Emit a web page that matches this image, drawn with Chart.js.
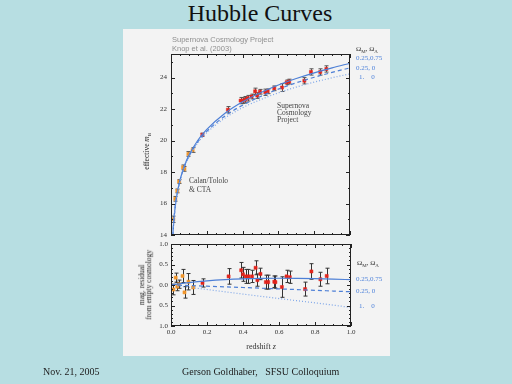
<!DOCTYPE html>
<html>
<head>
<meta charset="utf-8">
<script src="https://cdn.jsdelivr.net/npm/chart.js@4.4.1/dist/chart.umd.min.js"></script>
<style>
  body { margin: 0; width: 512px; height: 384px; background: #b7dee2; position: relative; overflow: hidden; font-family: "Liberation Serif", "DejaVu Serif", serif; }
  .abs { position: absolute; white-space: nowrap; }
  #panel { position: absolute; left: 123px; top: 29px; width: 267px; height: 327px; background: #f3f3f3; }
  canvas { position: absolute; }
  .leg { font-size: 7px; line-height: 8px; color: #4f83db; }
  .om { font-size: 7px; line-height: 8px; color: #333; }
  .rot { transform: rotate(-90deg); text-align: center; color: #222; }
</style>
</head>
<body>
<div class="abs" style="left:0;top:1px;width:520px;text-align:center;font-size:24px;line-height:24px;color:#111;">Hubble Curves</div>
<div id="panel"></div>

<canvas id="hubble" width="267" height="217" style="left:123px;top:28px;"></canvas>
<canvas id="resid" width="267" height="122" style="left:123px;top:234px;"></canvas>

<!-- figure texts -->
<div class="abs" style="left:172px;top:36px;font:7.5px/8px 'Liberation Sans',sans-serif;color:#8f8f8f;">Supernova Cosmology Project</div>
<div class="abs" style="left:172px;top:45px;font:7.5px/8px 'Liberation Sans',sans-serif;color:#8f8f8f;">Knop et al. (2003)</div>

<div class="abs om" style="left:356px;top:45px;">Ω<sub style="font-size:5px">M</sub>, Ω<sub style="font-size:5px">Λ</sub></div>
<div class="abs leg" style="left:356px;top:54px;">0.25,0.75</div>
<div class="abs leg" style="left:356px;top:64px;">0.25, 0</div>
<div class="abs leg" style="left:359px;top:73px;">1.&nbsp;&nbsp;&nbsp;&nbsp;0</div>

<div class="abs" style="left:277px;top:102px;font-size:7.5px;line-height:7px;color:#444;">Supernova<br>Cosmology<br>Project</div>
<div class="abs" style="left:189px;top:177px;font-size:7.5px;line-height:8.5px;color:#444;">Calan/Tololo<br>&amp; CTA</div>

<div class="abs rot" style="left:108px;top:145px;width:80px;font-size:7.5px;line-height:9px;">effective <i>m</i><sub style="font-size:5px">B</sub></div>

<div class="abs om" style="left:357px;top:259px;">Ω<sub style="font-size:5px">M</sub>, Ω<sub style="font-size:5px">Λ</sub></div>
<div class="abs leg" style="left:356px;top:275px;">0.25,0.75</div>
<div class="abs leg" style="left:356px;top:287px;">0.25, 0</div>
<div class="abs leg" style="left:359px;top:302px;">1.&nbsp;&nbsp;&nbsp;&nbsp;0</div>

<div class="abs rot" style="left:99px;top:278px;width:94px;font-size:7.5px;line-height:6.8px;">mag. residual<br>from empty cosmology</div>
<div class="abs" style="left:221px;top:342px;width:80px;text-align:center;font-size:8px;line-height:9px;color:#333;">redshift <i>z</i></div>

<div class="abs" style="left:43px;top:367px;font-size:10px;line-height:10px;color:#222;">Nov. 21, 2005</div>
<div class="abs" style="left:182px;top:367px;font-size:10px;line-height:10px;color:#222;">Gerson Goldhaber,&nbsp;&nbsp;&nbsp;SFSU Colloquium</div>

<script>
// Calan/Tololo low-redshift supernovae (top panel)
var lowZ      = [0.013, 0.024, 0.035, 0.045, 0.067, 0.075, 0.097, 0.121];
var lowMag    = [15.0, 16.3, 16.8, 17.4, 18.3, 18.2, 19.15, 19.4];
var lowMagErr = [0.2, 0.15, 0.12, 0.12, 0.15, 0.15, 0.15, 0.15];

// Supernova Cosmology Project high-redshift supernovae (top panel)
var highZ      = [0.175, 0.318, 0.389, 0.40, 0.415, 0.428, 0.45, 0.47, 0.482, 0.497, 0.527, 0.54, 0.577, 0.62, 0.646, 0.66, 0.745, 0.782, 0.834, 0.868];
var highMag    = [20.37, 21.96, 22.54, 22.54, 22.6, 22.69, 22.8, 23.13, 22.86, 23.1, 23.07, 23.13, 23.32, 23.37, 23.7, 23.75, 23.8, 24.36, 24.36, 24.55];
var highMagErr = [0.1, 0.2, 0.2, 0.18, 0.2, 0.18, 0.15, 0.2, 0.18, 0.15, 0.2, 0.15, 0.15, 0.25, 0.15, 0.15, 0.2, 0.2, 0.2, 0.2];

// cosmology curves, effective m_B vs z
var curveZ    = [0.01, 0.012, 0.02, 0.03, 0.05, 0.075, 0.1, 0.15, 0.2, 0.3, 0.4, 0.5, 0.6, 0.7, 0.8, 0.9, 1.0];
var magLambda = [13.92, 14.32, 15.44, 16.34, 17.48, 18.40, 19.06, 20.02, 20.71, 21.72, 22.46, 23.04, 23.53, 23.94, 24.30, 24.62, 24.91];
var magOpen   = [13.91, 14.31, 15.42, 16.31, 17.44, 18.35, 18.99, 19.92, 20.58, 21.55, 22.25, 22.80, 23.27, 23.67, 24.02, 24.33, 24.62];
var magFlatM  = [13.90, 14.30, 15.42, 16.30, 17.42, 18.32, 18.95, 19.86, 20.50, 21.42, 22.09, 22.60, 23.03, 23.40, 23.71, 23.99, 24.24];

// residuals from empty cosmology (bottom panel)
var resLowZ   = [0.013, 0.026, 0.035, 0.045, 0.064, 0.075, 0.097, 0.123];
var resLow    = [-0.11, 0.18, -0.04, 0.02, 0.22, -0.18, 0.08, -0.06];
var resLowErr = [0.13, 0.11, 0.1, 0.1, 0.16, 0.14, 0.2, 0.17];

var resHighZ   = [0.175, 0.32, 0.39, 0.40, 0.415, 0.43, 0.45, 0.47, 0.48, 0.497, 0.527, 0.54, 0.574, 0.58, 0.616, 0.642, 0.66, 0.745, 0.78, 0.83, 0.865];
var resHigh    = [0.05, 0.21, 0.36, 0.26, 0.21, 0.21, 0.21, 0.42, 0.12, 0.27, 0.07, 0.07, 0.08, 0.07, -0.05, 0.21, 0.19, -0.1, 0.33, 0.14, 0.22];
var resHighErr = [0.1, 0.19, 0.19, 0.17, 0.17, 0.17, 0.15, 0.17, 0.15, 0.14, 0.17, 0.17, 0.14, 0.15, 0.25, 0.15, 0.15, 0.17, 0.19, 0.17, 0.19];

var resCurveZ = [0, 0.1, 0.2, 0.3, 0.4, 0.5, 0.6, 0.7, 0.8, 0.9, 1.0];
var resLambda = [0, 0.058, 0.101, 0.131, 0.151, 0.162, 0.165, 0.163, 0.155, 0.144, 0.129];
var resOpen   = [0, -0.014, -0.029, -0.045, -0.061, -0.078, -0.095, -0.112, -0.130, -0.147, -0.165];
var resFlatM  = [0, -0.055, -0.110, -0.166, -0.221, -0.276, -0.330, -0.383, -0.435, -0.490, -0.550];

var RED = '#e2241c', ORANGE = '#f0952b', BLUE = '#4d7fd6', LIGHTBLUE = '#7ea6e8';
var tickFont = { family: "'Liberation Serif', serif", size: 7, lineHeight: 1 };

function pairs(xs, ys) {
    return xs.map(function(x, i) { return { x: x, y: ys[i] }; });
}

// frame around the plot with inward tick marks on all four sides
var boxTicks = {
    id: 'boxTicks',
    afterDatasetsDraw: function(chart, args, opts) {
        var ctx = chart.ctx, a = chart.chartArea;
        var xs = chart.scales.x, ys = chart.scales.y;
        ctx.save();
        ctx.strokeStyle = '#222';
        ctx.lineWidth = 1;
        ctx.strokeRect(Math.round(a.left) + 0.5, Math.round(a.top) + 0.5, Math.round(a.right - a.left) - 1, Math.round(a.bottom - a.top) - 1);
        ctx.beginPath();
        function each(scale, step, major, fn) {
            var n = Math.floor((scale.max - scale.min) / step + 1e-6);
            for (var i = 0; i <= n; i++) {
                var v = scale.min + i * step;
                var r = v / major;
                var big = Math.abs(r - Math.round(r)) < 1e-6;
                fn(Math.round(scale.getPixelForValue(v)) + 0.5, big ? 4 : 2);
            }
        }
        each(xs, opts.xMinor, opts.xMajor, function(p, len) {
            ctx.moveTo(p, a.bottom); ctx.lineTo(p, a.bottom - len);
            ctx.moveTo(p, a.top); ctx.lineTo(p, a.top + len);
        });
        each(ys, opts.yMinor, opts.yMajor, function(p, len) {
            ctx.moveTo(a.left, p); ctx.lineTo(a.left + len, p);
            ctx.moveTo(a.right, p); ctx.lineTo(a.right - len, p);
        });
        ctx.stroke();
        ctx.restore();
    }
};

// vertical error bars with small caps, for datasets that carry an errors array
var errorBars = {
    id: 'errorBars',
    beforeDatasetsDraw: function(chart) {
        var ctx = chart.ctx, xs = chart.scales.x, ys = chart.scales.y;
        ctx.save();
        chart.data.datasets.forEach(function(ds) {
            if (!ds.errors) return;
            ctx.strokeStyle = ds.errorColor || '#333';
            ctx.lineWidth = 1;
            ctx.beginPath();
            ds.data.forEach(function(pt, i) {
                var px = Math.round(xs.getPixelForValue(pt.x)) + 0.5;
                var top = ys.getPixelForValue(pt.y + ds.errors[i]);
                var bot = ys.getPixelForValue(pt.y - ds.errors[i]);
                ctx.moveTo(px, top); ctx.lineTo(px, bot);
                ctx.moveTo(px - 2, top); ctx.lineTo(px + 2, top);
                ctx.moveTo(px - 2, bot); ctx.lineTo(px + 2, bot);
            });
            ctx.stroke();
        });
        ctx.restore();
    }
};

function curve(xs, ys, color, dash) {
    return {
        data: pairs(xs, ys),
        showLine: true,
        borderColor: color,
        borderWidth: 1.2,
        borderDash: dash,
        pointRadius: 0,
        cubicInterpolationMode: 'monotone'
    };
}

function points(xs, ys, errs, color, errColor) {
    return {
        data: pairs(xs, ys),
        errors: errs,
        errorColor: errColor,
        pointStyle: 'rect',
        pointRadius: 2.2,
        pointBorderWidth: 0.5,
        backgroundColor: color,
        borderColor: color
    };
}

var hiddenGrid = { display: false, drawTicks: false };

new Chart(document.getElementById('hubble').getContext('2d'), {
    type: 'scatter',
    data: {
        datasets: [
            curve(curveZ, magFlatM, LIGHTBLUE, [1, 2]),
            curve(curveZ, magOpen, BLUE, [4, 3]),
            curve(curveZ, magLambda, BLUE, []),
            points(lowZ, lowMag, lowMagErr, ORANGE, '#555'),
            points(highZ, highMag, highMagErr, RED, '#555')
        ]
    },
    options: {
        responsive: false,
        animation: false,
        layout: { padding: { top: 26, right: 40, left: 0, bottom: 0 } },
        scales: {
            x: {
                type: 'linear', min: 0, max: 1,
                grid: hiddenGrid, border: { display: false },
                ticks: { display: false },
                afterFit: function(s) { s.height = 10; }
            },
            y: {
                min: 14, max: 25.5,
                grid: hiddenGrid, border: { display: false },
                ticks: { stepSize: 2, includeBounds: false, font: tickFont, color: '#333', padding: 4 },
                afterFit: function(s) { s.width = 48; }
            }
        },
        plugins: {
            legend: { display: false },
            tooltip: { enabled: false },
            boxTicks: { xMinor: 0.05, xMajor: 0.2, yMinor: 1, yMajor: 2 }
        }
    },
    plugins: [errorBars, boxTicks]
});

new Chart(document.getElementById('resid').getContext('2d'), {
    type: 'scatter',
    data: {
        datasets: [
            curve(resCurveZ, resFlatM, LIGHTBLUE, [1, 2]),
            curve(resCurveZ, resOpen, BLUE, [4, 3]),
            curve(resCurveZ, resLambda, BLUE, []),
            points(resLowZ, resLow, resLowErr, ORANGE, '#333'),
            points(resHighZ, resHigh, resHighErr, RED, '#333')
        ]
    },
    options: {
        responsive: false,
        animation: false,
        layout: { padding: { top: 10, right: 39, left: 0, bottom: 0 } },
        scales: {
            x: {
                type: 'linear', min: 0, max: 1,
                grid: hiddenGrid, border: { display: false },
                ticks: {
                    stepSize: 0.2, font: tickFont, color: '#333', padding: 3, maxRotation: 0,
                    callback: function(v) { return v.toFixed(1); }
                },
                afterFit: function(s) { s.height = 30; }
            },
            y: {
                min: -1, max: 1,
                grid: hiddenGrid, border: { display: false },
                ticks: {
                    stepSize: 0.5, font: tickFont, color: '#333', padding: 3,
                    // the original prints the negative side without a minus sign
                    callback: function(v) { return Math.abs(v).toFixed(1); }
                },
                afterFit: function(s) { s.width = 48; }
            }
        },
        plugins: {
            legend: { display: false },
            tooltip: { enabled: false },
            boxTicks: { xMinor: 0.05, xMajor: 0.2, yMinor: 0.1, yMajor: 0.5 }
        }
    },
    plugins: [errorBars, boxTicks]
});
</script>
</body>
</html>
